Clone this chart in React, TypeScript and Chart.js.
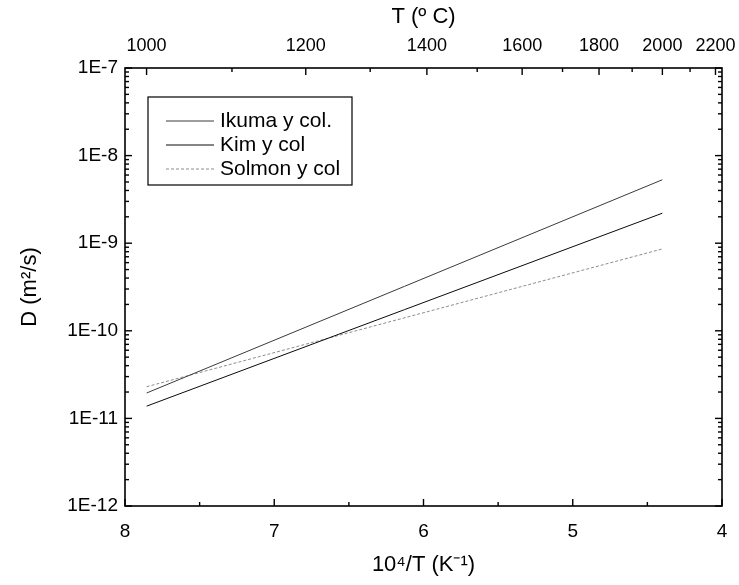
import React, { useEffect, useRef } from 'react';
import { Chart, registerables } from 'chart.js';

Chart.register(...registerables);

// ---- data ----
const seriesLabels = ['Ikuma y col.', 'Kim y col', 'Solmon y col'];
const invT = [7.855, 4.4]; // 10^4/T (K^-1) at 1000 °C and 2000 °C
const ikuma = [1.95e-11, 5.3e-9];
const kim = [1.38e-11, 2.2e-9];
const solmon = [2.3e-11, 8.6e-10];
const bottomTicks = [8, 7, 6, 5, 4];
const decadeExps = [-12, -11, -10, -9, -8, -7];
const topMajorT = [1000, 1200, 1400, 1600, 1800, 2000, 2200];
const topMinorT = [1100, 1300, 1500, 1700, 1900, 2100];

// ---- styles ----
const seriesColors = ['#3a3a3a', '#0a0a0a', '#8c8c8c'];
const seriesDash: number[][] = [[], [], [3, 2]];
const FONT = 'Liberation Sans, Arial, sans-serif';

const toInvT = (tc: number) => 1e4 / (tc + 273);

const noPad = (s: any) => {
  s.paddingLeft = 0;
  s.paddingRight = 0;
  s.paddingTop = 0;
  s.paddingBottom = 0;
};

const framePlugin = {
  id: 'frameTicks',
  afterDraw(chart: any) {
    const { ctx, chartArea: a, scales } = chart;
    const x = scales.x, y = scales.y, x2 = scales.x2;
    ctx.save();
    ctx.strokeStyle = '#000';
    ctx.lineWidth = 1.6;
    ctx.strokeRect(a.left, a.top, a.right - a.left, a.bottom - a.top);
    ctx.lineWidth = 1.4;
    const seg = (x1: number, y1: number, xx: number, yy: number) => {
      ctx.beginPath();
      ctx.moveTo(x1, y1);
      ctx.lineTo(xx, yy);
      ctx.stroke();
    };
    // bottom ticks (major + half minor)
    for (let i = 0; i < bottomTicks.length; i++) {
      const px = x.getPixelForValue(bottomTicks[i]);
      seg(px, a.bottom, px, a.bottom - 7);
      if (i < bottomTicks.length - 1) {
        const pm = x.getPixelForValue(bottomTicks[i] - 0.5);
        seg(pm, a.bottom, pm, a.bottom - 4);
      }
    }
    // left & right log ticks
    for (const e of decadeExps) {
      for (let m = 1; m <= 9; m++) {
        const v = m * Math.pow(10, e);
        if (v > 1.0001e-7) continue;
        const py = y.getPixelForValue(v);
        const len = m === 1 ? 7 : 4;
        seg(a.left, py, a.left + len, py);
        seg(a.right, py, a.right - len, py);
      }
    }
    // top ticks
    for (const t of topMajorT) {
      const px = x2.getPixelForValue(toInvT(t));
      seg(px, a.top, px, a.top + 7);
    }
    for (const t of topMinorT) {
      const px = x2.getPixelForValue(toInvT(t));
      seg(px, a.top, px, a.top + 4);
    }
    ctx.restore();
  },
};

const legendPlugin = {
  id: 'boxLegend',
  afterDraw(chart: any) {
    const { ctx, chartArea: a } = chart;
    const bx = a.left + 23;
    const by = a.top + 29;
    const bw = 204;
    const bh = 88;
    ctx.save();
    ctx.fillStyle = '#fff';
    ctx.fillRect(bx, by, bw, bh);
    ctx.strokeStyle = '#000';
    ctx.lineWidth = 1.2;
    ctx.strokeRect(bx, by, bw, bh);
    ctx.font = '21px ' + FONT;
    ctx.textBaseline = 'middle';
    ctx.fillStyle = '#000';
    chart.data.datasets.forEach((ds: any, i: number) => {
      const ry = by + 24 + i * 24;
      ctx.strokeStyle = ds.borderColor;
      ctx.lineWidth = 1;
      ctx.setLineDash(ds.borderDash || []);
      ctx.beginPath();
      ctx.moveTo(bx + 18, ry);
      ctx.lineTo(bx + 66, ry);
      ctx.stroke();
      ctx.setLineDash([]);
      ctx.fillText(ds.label, bx + 72, ry);
    });
    ctx.restore();
  },
};

export default function App() {
  const ref = useRef<HTMLCanvasElement>(null);
  useEffect(() => {
    if (!ref.current) return;
    const seriesData = [ikuma, kim, solmon];
    const chart = new Chart(ref.current, {
      type: 'line',
      data: {
        datasets: seriesLabels.map((label, i) => ({
          label,
          data: invT.map((xv, j) => ({ x: xv, y: seriesData[i][j] })),
          borderColor: seriesColors[i],
          borderWidth: 1,
          borderDash: seriesDash[i],
          pointRadius: 0,
          fill: false,
          xAxisID: 'x',
          yAxisID: 'y',
        })),
      },
      options: {
        animation: false,
        responsive: true,
        maintainAspectRatio: false,
        layout: { padding: { left: 0, right: 17, top: 0, bottom: 0 } },
        plugins: { legend: { display: false }, tooltip: { enabled: false } },
        scales: {
          x: {
            type: 'linear',
            position: 'bottom',
            min: 4,
            max: 8,
            reverse: true,
            grid: { display: false, drawTicks: false },
            border: { display: false },
            afterBuildTicks: (s: any) => {
              s.ticks = bottomTicks.map((v) => ({ value: v }));
            },
            afterFit: (s: any) => {
              s.height = 79;
              noPad(s);
            },
            ticks: {
              color: '#000',
              padding: 14,
              font: { family: FONT, size: 19 },
              callback: (v: any) => String(v),
              maxRotation: 0,
            },
            title: {
              display: true,
              text: '10⁴/T (K⁻¹)',
              color: '#000',
              font: { family: FONT, size: 22 },
              padding: { top: 0, bottom: 7 },
            },
          },
          x2: {
            type: 'linear',
            position: 'top',
            min: 4,
            max: 8,
            reverse: true,
            grid: { display: false, drawTicks: false },
            border: { display: false },
            afterBuildTicks: (s: any) => {
              s.ticks = topMajorT.map((t) => ({ value: toInvT(t) }));
            },
            afterFit: (s: any) => {
              s.height = 68;
              noPad(s);
            },
            ticks: {
              color: '#000',
              padding: 11,
              font: { family: FONT, size: 18 },
              autoSkip: false,
              maxRotation: 0,
              callback: (_v: any, i: number) => String(topMajorT[i]),
            },
            title: {
              display: true,
              text: 'T (º C)',
              color: '#000',
              font: { family: FONT, size: 22 },
              padding: { top: 4, bottom: 0 },
            },
          },
          y: {
            type: 'logarithmic',
            position: 'left',
            min: 1e-12,
            max: 1e-7,
            grid: { display: false, drawTicks: false },
            border: { display: false },
            afterBuildTicks: (s: any) => {
              s.ticks = decadeExps.map((e) => ({ value: Math.pow(10, e) }));
            },
            afterFit: (s: any) => {
              s.width = 125;
              noPad(s);
            },
            ticks: {
              color: '#000',
              padding: 7,
              font: { family: FONT, size: 19 },
              autoSkip: false,
              callback: (v: any) => '1E' + Math.round(Math.log10(Number(v))),
            },
            title: {
              display: true,
              text: 'D (m²/s)',
              color: '#000',
              font: { family: FONT, size: 22 },
              padding: { top: 17, bottom: 0 },
            },
          },
        },
      },
      plugins: [framePlugin, legendPlugin],
    } as any);
    return () => chart.destroy();
  }, []);
  return (
    <div style={{ position: 'fixed', left: 0, top: 0, width: 739, height: 585, background: '#fff' }}>
      <canvas ref={ref} />
    </div>
  );
}
